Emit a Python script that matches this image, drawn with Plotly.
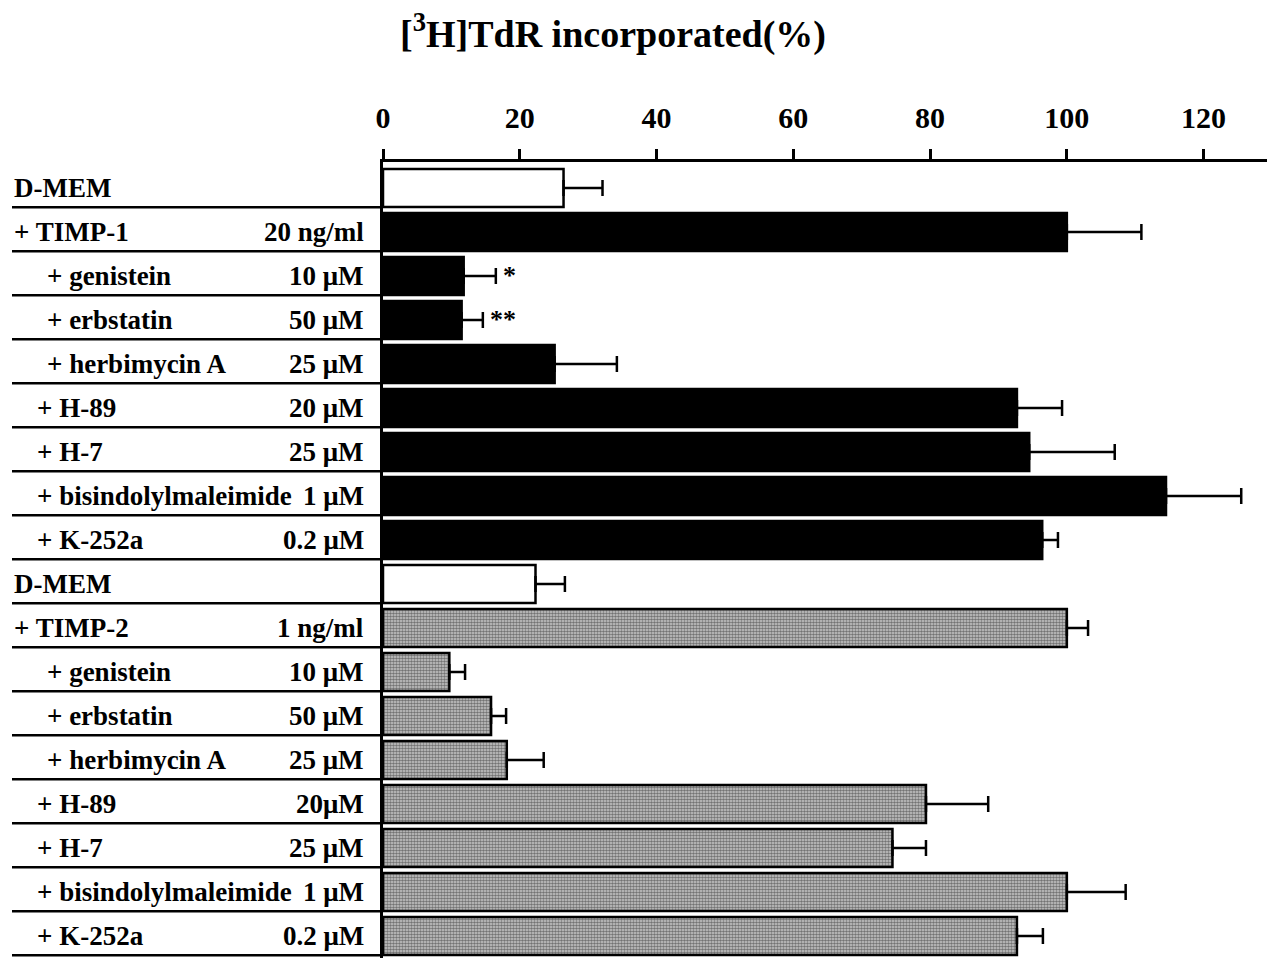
import plotly.graph_objects as go

names = ["D-MEM", "+ TIMP-1", "+ genistein", "+ erbstatin", "+ herbimycin A",
         "+ H-89", "+ H-7", "+ bisindolylmaleimide", "+ K-252a",
         "D-MEM", "+ TIMP-2", "+ genistein", "+ erbstatin", "+ herbimycin A",
         "+ H-89", "+ H-7", "+ bisindolylmaleimide", "+ K-252a"]
concs = ["", "20 ng/ml", "10 μM", "50 μM", "25 μM", "20 μM", "25 μM", "1 μM", "0.2 μM",
         "", "1 ng/ml", "10 μM", "50 μM", "25 μM", "20μM", "25 μM", "1 μM", "0.2 μM"]
indent = [0, 0, 2, 2, 2, 1, 1, 1, 1, 0, 0, 2, 2, 2, 1, 1, 1, 1]
values = [26.4, 100, 11.8, 11.5, 25.1, 92.7, 94.5, 114.5, 96.4,
          22.3, 100, 9.7, 15.8, 18.1, 79.4, 74.5, 100, 92.7]
err_plus = [5.7, 10.9, 4.7, 3.1, 9.1, 6.6, 12.5, 11.0, 2.3,
            4.3, 3.1, 2.3, 2.2, 5.4, 9.1, 4.9, 8.6, 3.8]
group = ["ctrl", "t1", "t1", "t1", "t1", "t1", "t1", "t1", "t1",
         "ctrl", "t2", "t2", "t2", "t2", "t2", "t2", "t2", "t2"]
stars = {2: "*", 3: "**"}
x_ticks = [0, 20, 40, 60, 80, 100, 120]

FONT = "Liberation Serif"
rows = list(range(len(names)))

# page body margin offset (px) compensation
OFF = 8
FIG_W, FIG_H = 1275 - OFF, 958 - OFF
L = 383 - OFF          # left edge of plot area (figure px)
R = 1272 - OFF         # right edge of plot area
T = 162 - OFF          # top axis line
W = R - L

fig = go.Figure()

styles = {
    "ctrl": dict(color="white", pattern=None),
    "t1": dict(color="black", pattern=None),
    "t2": dict(color="#b5b5b5", pattern=dict(shape=".", size=3, solidity=0.6,
                                             fgcolor="#1a1a1a", bgcolor="#cccccc",
                                             fillmode="overlay")),
}
for g, st in styles.items():
    idx = [i for i in rows if group[i] == g]
    marker = dict(color=st["color"], line=dict(color="black", width=2.5))
    if st["pattern"]:
        marker["pattern"] = st["pattern"]
    fig.add_trace(go.Bar(
        x=[values[i] for i in idx], y=[rows[i] for i in idx], orientation="h",
        width=0.86, marker=marker,
        error_x=dict(type="data", symmetric=False,
                     array=[err_plus[i] for i in idx],
                     arrayminus=[0] * len(idx),
                     color="black", thickness=2.5, width=8),
        showlegend=False, hoverinfo="x+y",
    ))

ann = []
shapes = []
name_px = {0: 12 - OFF, 1: 35 - OFF, 2: 45 - OFF}
for i in rows:
    ann.append(dict(x=(name_px[indent[i]] - L) / W, xref="paper", y=rows[i], yref="y",
                    text=names[i], showarrow=False, xanchor="left", yanchor="middle",
                    font=dict(family=FONT, size=27, color="black", weight="bold")))
    if concs[i]:
        ann.append(dict(x=(366 - OFF - L) / W, xref="paper", y=rows[i], yref="y",
                        text=concs[i], showarrow=False, xanchor="right", yanchor="middle",
                        font=dict(family=FONT, size=27, color="black", weight="bold")))
    shapes.append(dict(type="line", xref="paper", yref="y",
                       x0=(12 - OFF - L) / W, x1=0, y0=rows[i] + 0.44, y1=rows[i] + 0.44,
                       line=dict(color="black", width=2.5)))
for i, s in stars.items():
    ann.append(dict(x=values[i] + err_plus[i] + 0.8, y=rows[i], xref="x", yref="y",
                    text=s, showarrow=False, xanchor="left", yanchor="middle",
                    font=dict(family=FONT, size=26, color="black", weight="bold")))

# thin right border
shapes.append(dict(type="line", xref="paper", yref="paper", x0=1, x1=1, y0=0, y1=1,
                   line=dict(color="black", width=1.5)))

fig.update_layout(
    width=FIG_W, height=FIG_H,
    margin=dict(l=L, r=FIG_W - R, t=T, b=0, pad=0),
    paper_bgcolor="white", plot_bgcolor="white",
    barmode="overlay",
    title=dict(text="[<sup>3</sup>H]TdR incorporated(%)", x=(613 - OFF) / FIG_W,
               xanchor="center", y=1 - (34 - OFF) / FIG_H, yanchor="middle",
               yref="container",
               font=dict(family=FONT, size=38, color="black", weight="bold")),
    xaxis=dict(side="top", range=[0, 130], tickvals=x_ticks,
               ticktext=[str(t) for t in x_ticks],
               ticks="outside", ticklen=10, tickwidth=2.5, tickcolor="black",
               showline=True, linecolor="black", linewidth=2.5, mirror=False,
               showgrid=False, zeroline=False, ticklabelstandoff=9,
               tickfont=dict(family=FONT, size=30, color="black", weight="bold")),
    yaxis=dict(range=[17.5, -0.59], showticklabels=False, ticks="",
               showline=True, linecolor="black", linewidth=2.5, mirror=False,
               showgrid=False, zeroline=False),
    annotations=ann, shapes=shapes,
)

fig.write_html("out.html")
